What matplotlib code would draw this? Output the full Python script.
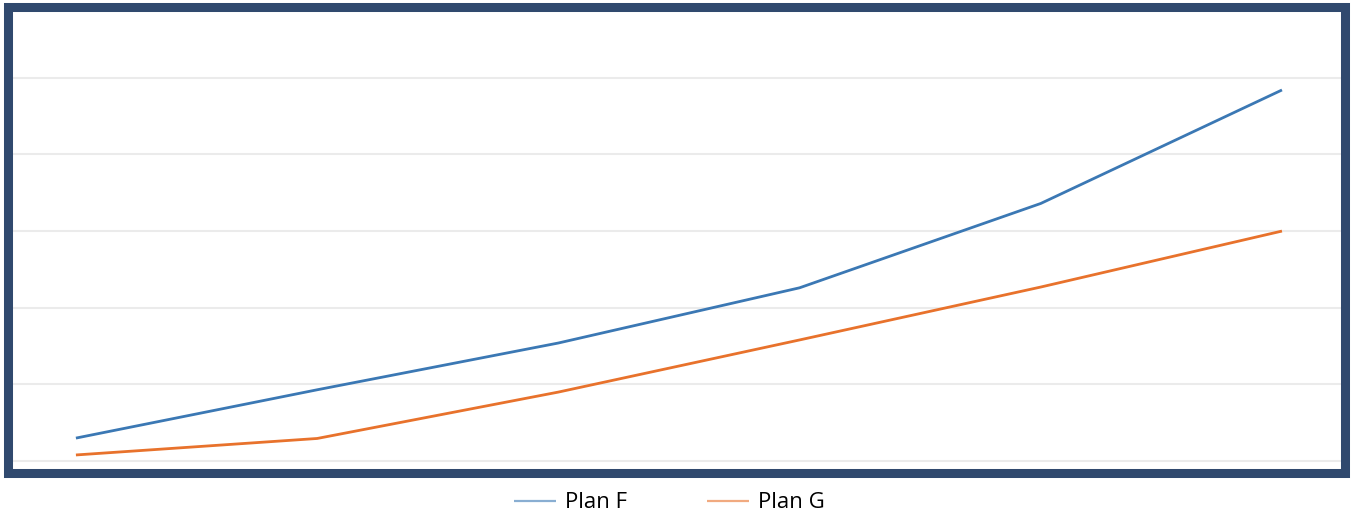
import numpy as np
import matplotlib.pyplot as plt
from matplotlib.patches import Rectangle

# data (arbitrary units: one gridline = 20)
points = [0, 1, 2, 3, 4, 5]
plan_f = [6.0, 18.6, 30.8, 45.2, 67.2, 96.8]
plan_g = [1.6, 5.9, 18.0, 31.6, 45.4, 60.0]
series_names = ['Plan F', 'Plan G']

W, H = 1352, 519
fig = plt.figure(figsize=(W / 100, H / 100), dpi=100)
plt.rcParams['font.family'] = ['Open Sans', 'DejaVu Sans']

# plot area inside the frame
ax = fig.add_axes([12 / W, 1 - 468 / H, (1343 - 12) / W, (468 - 11) / H])
ax.plot(points, plan_f, color='#3b78b4', lw=2.0, label=series_names[0], solid_capstyle='butt')
ax.plot(points, plan_g, color='#e8722c', lw=2.0, label=series_names[1], solid_capstyle='butt')

ax.set_xlim(-0.265, 5.253)
ax.set_ylim(-1.8, 117.4)
ax.set_yticks(np.arange(0, 101, 20))
ax.yaxis.grid(True, color='#ebebeb', lw=1.5)
ax.set_axisbelow(True)
ax.tick_params(left=False, bottom=False, labelleft=False, labelbottom=False)
for s in ax.spines.values():
    s.set_visible(False)

# dark frame around the chart
fig.patches.append(Rectangle((7.5 / W, 1 - 472.5 / H), (1344.5 - 7.5) / W, (472.5 - 6.5) / H,
                             transform=fig.transFigure, fill=False,
                             edgecolor='#30496e', lw=6.5))

leg = fig.legend(loc='center', bbox_to_anchor=(669 / W, 1 - 503 / H), ncol=2,
                 frameon=False, fontsize=16, handlelength=1.9, handletextpad=0.4,
                 columnspacing=3.6)
for ln in leg.get_lines():
    ln.set_alpha(0.6)
    ln.set_linewidth(1.6)

fig.savefig('out.png', dpi=100)
